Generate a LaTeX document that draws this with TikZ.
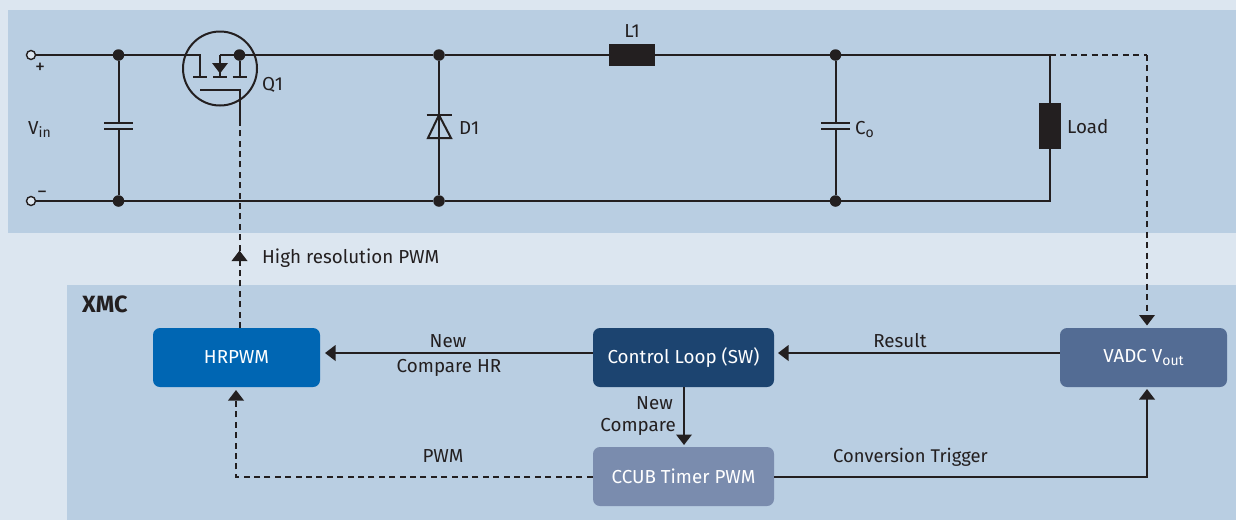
\documentclass[tikz,border=0pt]{standalone}
\usepackage{fontspec}
\setmainfont{Fira Sans}
\usetikzlibrary{arrows.meta,calc}
\definecolor{pagebg}{HTML}{DCE6F0}
\definecolor{panel}{HTML}{B9CEE2}
\definecolor{ink}{HTML}{231F20}
\definecolor{hrblue}{HTML}{0066B3}
\definecolor{ctlblue}{HTML}{1C4470}
\definecolor{ccubblue}{HTML}{7A8CAE}
\definecolor{vadcblue}{HTML}{536C94}
\newcommand{\lowsub}[1]{\raisebox{-3.5pt}{\fontsize{14}{14}\selectfont #1}}
\newcommand{\blocktext}[1]{\raisebox{-1pt}{#1}}
\tikzset{
  wire/.style={draw=ink,line width=2pt},
  dashwire/.style={draw=ink,line width=2pt,dash pattern=on 6pt off 4.4pt},
  flow/.style={wire,-{Triangle[length=10.5pt,width=15.5pt]}},
  dashflow/.style={dashwire,-{Triangle[length=10.5pt,width=15.5pt]}},
  junction/.style={circle,fill=ink,inner sep=0pt,minimum size=11.5pt},
  terminal/.style={circle,draw=ink,line width=1.4pt,fill=pagebg,inner sep=0pt,minimum size=9pt},
  solidpart/.style={fill=ink,inner sep=0pt},
  block/.style={rounded corners=7pt,text=white,inner sep=0pt,minimum height=59pt,font=\fontsize{18.8}{20}\selectfont},
  lab/.style={text=ink,inner sep=0pt,font=\fontsize{18.8}{21.5}\selectfont},
  polarity/.style={lab,font=\fontsize{20}{22}\selectfont},
}
\begin{document}
\begin{tikzpicture}[x=1pt,y=-1pt]
\useasboundingbox (0,0) rectangle (1236,520);
\fill[pagebg] (0,0) rectangle (1236,520);
\fill[panel] (8,10) rectangle (1236,233);
\fill[panel] (67,285) rectangle (1236,520);

% blocks
\node[block,fill=hrblue,minimum width=167pt] (hr) at (236.5,357.5) {\blocktext{HRPWM}};
\node[block,fill=ctlblue,minimum width=181pt] (ctl) at (683.5,357.5) {\blocktext{Control Loop (SW)}};
\node[block,fill=ccubblue,minimum width=181pt] (ccub) at (683.5,476.5) {\blocktext{CCUB Timer PWM}};
\node[block,fill=vadcblue,minimum width=167pt] (vadc) at (1143.5,357.5) {\blocktext{VADC V\lowsub{out}}};

% terminals and junctions
\node[terminal] (tp) at (31,55) {};
\node[terminal] (tm) at (31,201) {};
\node[junction] (j1) at (118.5,55) {};
\node[junction] (j2) at (118.5,201) {};
\node[junction] (j3) at (239.5,55) {};
\node[junction] (j4) at (439,55) {};
\node[junction] (j5) at (439,201) {};
\node[junction] (j6) at (835.5,55) {};
\node[junction] (j7) at (835.5,201) {};
\node[solidpart,minimum width=46pt,minimum height=22pt] (l1) at (632,55) {};
\node[solidpart,minimum width=22pt,minimum height=46pt] (load) at (1050,126) {};

% named free ends
\coordinate (ltop) at (1050,55);
\coordinate (lbot) at (1050,201);
\coordinate (sense) at (1147,55);
\coordinate (qs) at (200,55);
\coordinate (qsb) at (200,77);
\coordinate (qb) at (220,55);
\coordinate (qbb) at (220,77);
\coordinate (qdb) at (239.5,77);
\coordinate (qg) at (200,90);
\coordinate (qgc) at (239.5,90);
\coordinate (qge) at (239.5,123);
\coordinate (hrtop) at (239.5,328);
\coordinate (hrarrow) at (239.5,250.5);
\coordinate (y1) at (0,353);
\coordinate (ct) at (118.5,123);
\coordinate (cb) at (118.5,129);
\coordinate (dt) at (439,115);
\coordinate (dl) at (428,138);
\coordinate (dr) at (451,138);
\coordinate (cot) at (835.5,123);
\coordinate (cob) at (835.5,129);
\coordinate (bendl) at (236,476.5);
\coordinate (bendr) at (1147,476.5);
\coordinate (hrin) at (236,390);
\coordinate (vin) at (1147,389);
\coordinate (vtop) at (1147,325.5);
\coordinate (ctlin) at (778,353);
\coordinate (hrin2) at (325,353);
\coordinate (cin) at (684,445);

% power wiring
\draw[wire] (tp) -- (j1) -- (qs) -- (qsb);
\draw[wire] (qb) -- (j3) -- (j4) -- (l1);
\draw[wire] (qb) -- (qbb);
\draw[wire] (j3) -- (qdb);
\draw[wire] (l1) -- (j6) -- (ltop);
\draw[wire] (ltop) -- (load);
\draw[wire] (load) -- (lbot) -- (j7) -- (j5) -- (j2) -- (tm);
\draw[wire] (j1) -- (ct);
\draw[wire] (cb) -- (j2);
\draw[wire] (j4) -- (dt);
\draw[wire] (dt) -- (j5);
\draw[wire] (j6) -- (cot);
\draw[wire] (cob) -- (j7);

% capacitors
\draw[wire] ($(ct)+(-14.5,0)$) -- ($(ct)+(14.5,0)$);
\draw[wire] ($(cb)+(-14.5,0)$) -- ($(cb)+(14.5,0)$);
\draw[wire] ($(cot)+(-14.5,0)$) -- ($(cot)+(14.5,0)$);
\draw[wire] ($(cob)+(-14.5,0)$) -- ($(cob)+(14.5,0)$);

% diode
\draw[wire] ($(dt)+(-12.5,0)$) -- ($(dt)+(12.5,0)$);
\draw[wire,line join=miter] (dt) -- (dl) -- (dr) -- cycle;

% MOSFET
\draw[wire] (220,68.5) circle (37);
\draw[wire] ($(qsb)+(-7,0)$) -- ($(qsb)+(7,0)$);
\draw[wire] ($(qbb)+(-7,0)$) -- ($(qbb)+(7,0)$);
\draw[wire] ($(qdb)+(-7,0)$) -- ($(qdb)+(7,0)$);
\fill[ink] (212,63) -- (228,63) -- (220,73.5) -- cycle;
\draw[wire] (qg) -- (qgc) -- (qge);

% control connectors
\draw[dashflow] (hrtop) -- (hrarrow);
\draw[dashwire] (hrarrow) -- (qge);
\draw[dashwire] (ltop) -- (sense);
\draw[dashflow] (sense) -- (vtop);
\draw[flow] (ctl.west |- y1) -- (hrin2);
\draw[flow] (vadc.west |- y1) -- (ctlin);
\draw[flow] (ctl.south -| cin) -- (cin);
\draw[dashflow] (ccub.west) -- (bendl) -- (hrin);
\draw[flow] (ccub.east) -- (bendr) -- (vin);

% labels
\node[polarity,anchor=base west] (tplus) at (35,73) {+};
\node[polarity,anchor=base west] (tminus) at (37,198) {−};
\node[lab,anchor=base west] (tvin) at (28,134) {V\lowsub{in}};
\node[lab,anchor=base west] (tq) at (262,90) {Q1};
\node[lab,anchor=base] (tl) at (632,37) {L1};
\node[lab,anchor=base west] (td) at (459,134) {D1};
\node[lab,anchor=base west] (tco) at (855,134) {C\lowsub{o}};
\node[lab,anchor=base west] (tload) at (1067,133) {Load};
\node[lab,anchor=base west] (thr) at (262,263) {High resolution PWM};
\node[lab,anchor=base west,font=\bfseries\fontsize{23.5}{26}\selectfont] (txmc) at (82,312) {XMC};
\node[lab,anchor=base] (tnew) at (448,347) {New};
\node[lab,anchor=base] (tch) at (449,372) {Compare HR};
\node[lab,anchor=base] (tres) at (900,347) {Result};
\node[lab,anchor=base east] (tnew2) at (673,409) {New};
\node[lab,anchor=base east] (tcomp) at (676,431) {Compare};
\node[lab,anchor=base] (tpwm) at (443,462) {PWM};
\node[lab,anchor=base west,font=\fontsize{18.4}{21.5}\selectfont] (tconv) at (833,462) {Conversion Trigger};
\end{tikzpicture}
\end{document}
